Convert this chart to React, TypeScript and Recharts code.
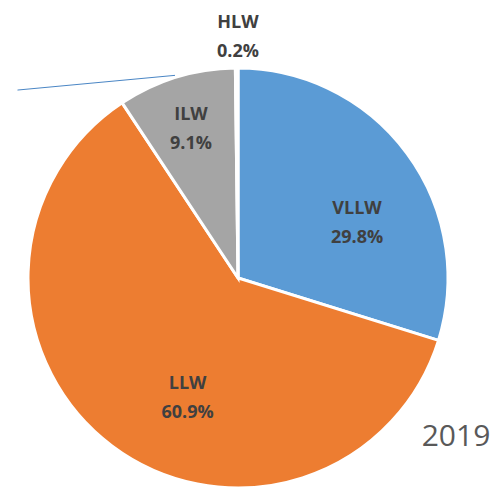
import { Cell, Pie, PieChart } from 'recharts'

const CATEGORIES = ['VLLW', 'LLW', 'ILW', 'HLW']
const SHARES = [29.8, 60.9, 9.1, 0.2]
const COLORS = ['#5B9BD5', '#ED7D31', '#A5A5A5', '#FFFFFF']
const YEAR = '2019'

// label centres as offsets from the pie centre, in units of the radius
const LABEL_OFFSETS: [number, number][] = [
  [0.567, -0.267],
  [-0.24, 0.564],
  [-0.224, -0.717],
  [0.0, -1.157],
]

interface Datum {
  name: string
  value: number
}

const data: Datum[] = CATEGORIES.map((name, i) => ({ name, value: SHARES[i] }))

interface LabelProps {
  cx?: number
  cy?: number
  outerRadius?: number
  index?: number
}

function SliceLabel({ cx = 0, cy = 0, outerRadius = 0, index = 0 }: LabelProps) {
  const [dx, dy] = LABEL_OFFSETS[index]
  const x = cx + dx * outerRadius
  const y = cy + dy * outerRadius
  const item = data[index]
  return (
    <g>
      {index === 3 && (
        <line
          x1={cx - 1.05 * outerRadius}
          y1={cy - 0.895 * outerRadius}
          x2={cx - 0.3 * outerRadius}
          y2={cy - 0.965 * outerRadius}
          stroke="#4A86C5"
          strokeWidth={1}
        />
      )}
      <text
        x={x}
        y={y - 14.5}
        textAnchor="middle"
        dominantBaseline="central"
        fill="#404040"
        fontSize={18}
        fontWeight={700}
      >
        {item.name}
      </text>
      <text
        x={x}
        y={y + 14.5}
        textAnchor="middle"
        dominantBaseline="central"
        fill="#404040"
        fontSize={18}
        fontWeight={700}
      >
        {item.value.toFixed(1)}%
      </text>
    </g>
  )
}

export default function App() {
  return (
    <div style={{ position: 'absolute', left: 0, top: 0, width: 495, height: 490, background: '#fff' }}>
      <PieChart width={495} height={490} style={{ fontFamily: '"Open Sans", Lato, sans-serif' }}>
        <Pie
          data={data}
          dataKey="value"
          nameKey="name"
          cx={233}
          cy={273}
          outerRadius={210}
          startAngle={90}
          endAngle={-270}
          stroke="#ffffff"
          strokeWidth={3}
          label={SliceLabel}
          labelLine={false}
          isAnimationActive={false}
        >
          {data.map((entry, i) => (
            <Cell key={entry.name} fill={COLORS[i]} />
          ))}
        </Pie>
        <text
          x={456}
          y={434}
          textAnchor="middle"
          dominantBaseline="central"
          fill="#595959"
          fontSize={30}
        >
          {YEAR}
        </text>
      </PieChart>
    </div>
  )
}
